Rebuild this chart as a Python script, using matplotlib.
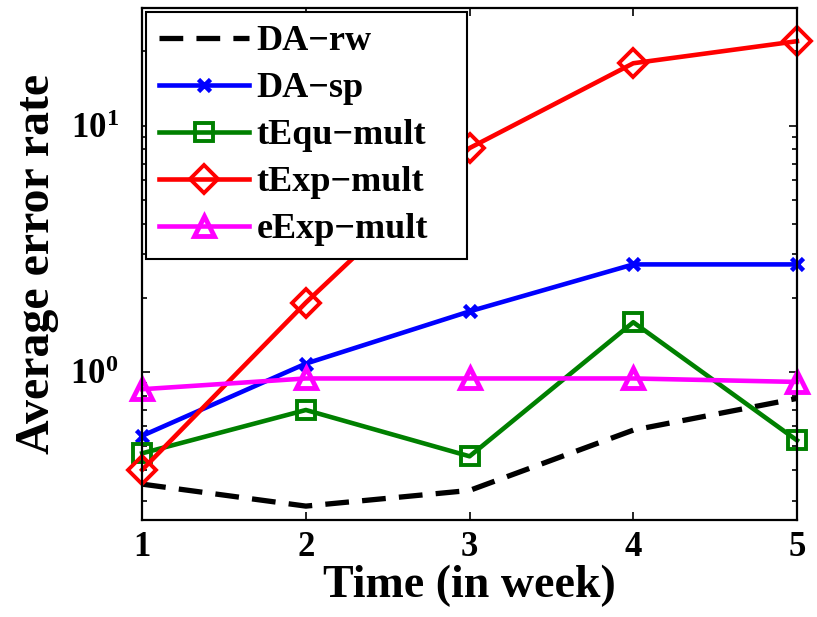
import matplotlib
matplotlib.use('Agg')
import matplotlib.pyplot as plt
from matplotlib.ticker import LogLocator, NullFormatter

plt.rcParams['font.family'] = ['Liberation Serif', 'DejaVu Serif']
plt.rcParams['font.weight'] = 'bold'
plt.rcParams['mathtext.fontset'] = 'custom'
plt.rcParams['mathtext.rm'] = 'Liberation Serif:bold'
plt.rcParams['mathtext.bf'] = 'Liberation Serif:bold'

# weeks
weeks = [1, 2, 3, 4, 5]

# average error rate per method
da_rw = [0.35, 0.285, 0.33, 0.58, 0.78]
da_sp = [0.55, 1.08, 1.76, 2.73, 2.73]
tequ_mult = [0.467, 0.70, 0.454, 1.59, 0.527]
texp_mult = [0.40, 1.91, 8.1, 17.9, 22.0]
eexp_mult = [0.85, 0.94, 0.94, 0.94, 0.91]

labels = ['DA\u2212rw', 'DA\u2212sp', 'tEqu\u2212mult', 'tExp\u2212mult', 'eExp\u2212mult']

fig = plt.figure(figsize=(8.17, 6.17), dpi=100)
ax = fig.add_axes([0.174, 0.157, 0.8015, 0.83])

ax.plot(weeks, da_rw, color='black', lw=3.8, ls=(0, (4.5, 2.5)), label=labels[0],
        clip_on=False)
ax.plot(weeks, da_sp, color='blue', lw=3.3, marker='x', ms=8, mew=3.3, label=labels[1],
        clip_on=False)
ax.plot(weeks, tequ_mult, color=(0, 0.5, 0), lw=3.3, marker='s', ms=13, mew=2.8,
        mfc='none', label=labels[2], clip_on=False)
ax.plot(weeks, texp_mult, color='red', lw=3.3, marker='D', ms=14, mew=2.8,
        mfc='none', label=labels[3], clip_on=False)
ax.plot(weeks, eexp_mult, color=(1, 0, 1), lw=3.3, marker='^', ms=15, mew=3.5,
        mfc='none', label=labels[4], clip_on=False)

ax.set_yscale('log')
ax.set_xlim(1, 5)
ax.set_ylim(0.25, 30)
ax.set_xticks(weeks)
ax.set_xticklabels([str(w) for w in weeks], fontsize=25, fontweight='bold')
ax.set_yticks([1, 10])
ax.set_yticklabels([r'$\mathbf{10^{0}}$', r'$\mathbf{10^{1}}$'], fontsize=25)
ax.yaxis.set_minor_locator(LogLocator(base=10, subs=range(2, 10), numticks=20))
ax.yaxis.set_minor_formatter(NullFormatter())

ax.tick_params(which='both', direction='in', top=True, right=True, width=1.2)
ax.tick_params(which='major', length=6)
ax.tick_params(axis='x', which='major', pad=8)
ax.tick_params(axis='y', which='major', pad=17)
ax.tick_params(which='minor', length=3.5)
for s in ax.spines.values():
    s.set_linewidth(1.6)

ax.set_xlabel('Time (in week)', fontsize=33, fontweight='bold', labelpad=0)
ax.set_ylabel('Average error rate', fontsize=34.5, fontweight='bold', labelpad=8)

leg = ax.legend(loc='upper left', bbox_to_anchor=(0, 0, 0.503, 1), mode='expand',
                borderaxespad=0.12, fontsize=26, handlelength=2.5, handletextpad=0.2,
                labelspacing=0.38, borderpad=0.35, fancybox=False, framealpha=1,
                edgecolor='black')
leg.get_frame().set_linewidth(1.5)

fig.savefig('out.png', dpi=100)
